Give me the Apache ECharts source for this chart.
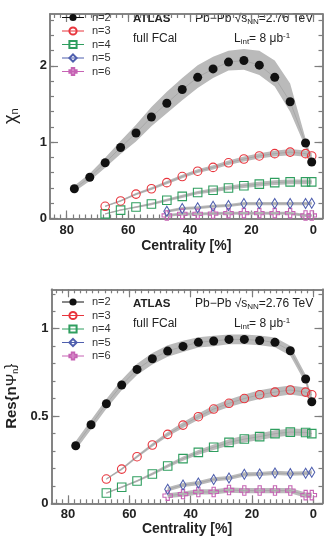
<!DOCTYPE html>
<html>
<head>
<meta charset="utf-8">
<script src="https://cdn.jsdelivr.net/npm/echarts@6/dist/echarts.min.js"></script>
<style>
html,body{margin:0;padding:0;background:#fff;}
#chart{width:329px;height:539px;}
</style>
</head>
<body>
<div id="chart"></div>
<script>
// ---------- data ----------
const centAll = [77.5,72.5,67.5,62.5,57.5,52.5,47.5,42.5,37.5,32.5,27.5,22.5,17.5,12.5,7.5,2.5,0.5];
const cent34  = [67.5,62.5,57.5,52.5,47.5,42.5,37.5,32.5,27.5,22.5,17.5,12.5,7.5,2.5,0.5];
const cent56  = [47.5,42.5,37.5,32.5,27.5,22.5,17.5,12.5,7.5,2.5,0.5];

// top panel: chi_n
const chiN2   = [0.39,0.54,0.73,0.93,1.12,1.33,1.51,1.69,1.85,1.96,2.05,2.07,2.01,1.85,1.53,0.99,0.74];
const chiN2Up = [0.04,0.05,0.065,0.085,0.11,0.13,0.15,0.15,0.16,0.16,0.15,0.15,0.19,0.22,0.24,0.06,0.05];
const chiN2Lo = [0.04,0.05,0.065,0.085,0.11,0.12,0.13,0.14,0.14,0.12,0.11,0.12,0.13,0.12,0.13,0.06,0.05];
const chiN3   = [0.16,0.23,0.32,0.39,0.47,0.55,0.62,0.67,0.73,0.78,0.82,0.85,0.87,0.85,0.82];
const chiN3Err= [0.01,0.012,0.015,0.018,0.02,0.022,0.025,0.028,0.03,0.032,0.035,0.038,0.04,0.04,0.04];
const chiN4   = [0.06,0.11,0.15,0.19,0.24,0.29,0.34,0.37,0.40,0.43,0.45,0.47,0.48,0.48,0.48];
const chiN4Err= [0.008,0.01,0.012,0.015,0.018,0.02,0.022,0.025,0.028,0.03,0.03,0.032,0.032,0.032,0.032];
const chiN5   = [0.094,0.13,0.14,0.16,0.17,0.195,0.195,0.195,0.195,0.195,0.2];
const chiN5Err= [0.018,0.02,0.02,0.02,0.02,0.02,0.02,0.02,0.02,0.02,0.02];
const chiN6   = [0.04,0.06,0.06,0.065,0.07,0.07,0.07,0.07,0.07,0.04,0.04];
const chiN6Err= [0.018,0.02,0.02,0.02,0.02,0.02,0.02,0.02,0.02,0.02,0.02];

// bottom panel: Res{n Psi_n}
const resN2   = [0.33,0.45,0.57,0.678,0.767,0.828,0.872,0.899,0.922,0.93,0.939,0.939,0.933,0.922,0.874,0.712,0.582];
const resN2Err= [0.025,0.027,0.028,0.03,0.032,0.033,0.033,0.032,0.03,0.03,0.028,0.028,0.028,0.028,0.028,0.025,0.02];
const resN3   = [0.139,0.196,0.267,0.334,0.395,0.448,0.496,0.54,0.573,0.60,0.622,0.637,0.649,0.637,0.622];
const resN3Err= [0.004,0.006,0.008,0.01,0.013,0.016,0.018,0.02,0.022,0.024,0.025,0.026,0.026,0.026,0.026];
const resN4   = [0.059,0.092,0.128,0.168,0.214,0.256,0.292,0.321,0.349,0.368,0.382,0.399,0.408,0.406,0.399];
const resN4Err= [0.004,0.005,0.006,0.008,0.01,0.012,0.014,0.016,0.018,0.02,0.02,0.02,0.02,0.02,0.02];
const resN5   = [0.08,0.105,0.116,0.137,0.145,0.166,0.168,0.174,0.17,0.172,0.178];
const resN5Err= [0.012,0.012,0.012,0.012,0.012,0.012,0.012,0.012,0.012,0.012,0.012];
const resN6   = [0.044,0.053,0.065,0.065,0.076,0.073,0.073,0.073,0.073,0.047,0.047];
const resN6Err= [0.014,0.015,0.015,0.015,0.015,0.015,0.015,0.015,0.015,0.015,0.015];

const seriesNames = ['n=2','n=3','n=4','n=5','n=6'];
const xTickLabels = [0,20,40,60,80];
const yTickLabelsTop = [0,1,2];
const yTickLabelsBottom = [0,0.5,1];

// ---------- styles ----------
const FONT = 'Liberation Sans, Arial, Helvetica, sans-serif';
const FRAME = '#7d7d7d';
const BAND = '#bababa';
const COLORS = {'n=2':'#111111','n=3':'#e8353d','n=4':'#2f9e5f','n=5':'#4f5fae','n=6':'#c663b4'};
const CROSS = 'path://M3.3,0H6.7V3.3H10V6.7H6.7V10H3.3V6.7H0V3.3H3.3Z';

function range(a, b, step){ const r=[]; for(let v=a; v<=b+1e-9; v+=step) r.push(+v.toFixed(4)); return r; }
const xMinor = range(0, 84, 2);

const grids = [
  {left:50, top:14, width:272.5, height:204.5, containLabel:false, outerBoundsMode:'none'},
  {left:51.5, top:289.3, width:271, height:214, containLabel:false, outerBoundsMode:'none'}
];

const xAxes = [], yAxes = [];
function addX(gi, pos, major, labels, name){
  xAxes.push({
    type:'value', gridIndex:gi, position:pos, min:-3, max:85.4, inverse:true,
    axisLine:{show:true, onZero:false, lineStyle:{color:FRAME, width:1.5}},
    axisTick:{show:true, inside:true, length: major?8:4, customValues: major?xTickLabels:xMinor, lineStyle:{color:FRAME, width:1.2}},
    axisLabel:{show:!!labels, customValues:xTickLabels, margin:5, color:'#222', fontFamily:FONT, fontWeight:'bold', fontSize:13},
    splitLine:{show:false},
    name: name || '', nameLocation:'middle', nameGap:21,
    nameTextStyle:{color:'#222', fontFamily:FONT, fontWeight:'bold', fontSize:14}
  });
}
function addY(gi, pos, max, major, labels, minorStep, majors, name, nameRich){
  yAxes.push({
    type:'value', gridIndex:gi, position:pos, min:0, max:max,
    axisLine:{show:true, onZero:false, lineStyle:{color:FRAME, width:1.5}},
    axisTick:{show:true, inside:true, length: major?8:4, customValues: major?majors:range(0, max, minorStep), lineStyle:{color:FRAME, width:1.2}},
    axisLabel:{show:!!labels, customValues:majors, margin:3, color:'#222', fontFamily:FONT, fontWeight:'bold', fontSize:13},
    splitLine:{show:false},
    name: name || '', nameLocation:'middle', nameGap:32, nameRotate:90,
    nameTextStyle:{color:'#222', fontFamily:FONT, fontSize:15, rich:nameRich || {}}
  });
}
addX(0,'bottom',true,true,'Centrality [%]');
addX(0,'bottom',false,false);
addX(0,'top',true,false);
addX(0,'top',false,false);
addX(1,'bottom',true,true,'Centrality [%]');
addX(1,'bottom',false,false);
addX(1,'top',true,false);
addX(1,'top',false,false);
xAxes[4].nameGap = 18;

const richTop = {
  a:{fontFamily:FONT, fontSize:18, color:'#222', verticalAlign:'bottom', lineHeight:20},
  b:{fontFamily:FONT, fontSize:11, color:'#222', verticalAlign:'bottom', lineHeight:15}
};
const richBot = {
  a:{fontFamily:FONT, fontSize:15, fontWeight:'bold', color:'#222', verticalAlign:'bottom', lineHeight:18},
  p:{fontFamily:FONT, fontSize:15, color:'#222', verticalAlign:'bottom', lineHeight:18},
  b:{fontFamily:FONT, fontSize:9, color:'#222', verticalAlign:'bottom', lineHeight:13}
};
const TOPMAX = 2.68, BOTMAX = 1.226;
addY(0,'left',TOPMAX,true,true,0.2,yTickLabelsTop,'{a|χ}{b|n}',richTop);
addY(0,'left',TOPMAX,false,false,0.2,yTickLabelsTop);
addY(0,'right',TOPMAX,true,false,0.2,yTickLabelsTop);
addY(0,'right',TOPMAX,false,false,0.2,yTickLabelsTop);
addY(1,'left',BOTMAX,true,true,0.1,yTickLabelsBottom,'{a|Res\{n}{p|Ψ}{b|n}{a|\}}',richBot);
addY(1,'left',BOTMAX,false,false,0.1,yTickLabelsBottom);
addY(1,'right',BOTMAX,true,false,0.1,yTickLabelsBottom);
addY(1,'right',BOTMAX,false,false,0.1,yTickLabelsBottom);
yAxes[0].nameGap = 30;
yAxes[4].nameGap = 28;

// ---------- series builders ----------
function band(gi, xs, ys, up, lo){
  return {
    type:'custom', xAxisIndex:gi*4, yAxisIndex:gi*4, silent:true, z:1, clip:true,
    data: xs.map((x,i)=>[x, ys[i]]),
    renderItem: function(params, api){
      if (params.dataIndex !== 0) return {type:'group', children:[]};
      const upper = xs.map((x,i)=>api.coord([x, ys[i]+up[i]]));
      const lower = xs.map((x,i)=>api.coord([x, ys[i]-lo[i]])).reverse();
      return {type:'polygon', shape:{points: upper.concat(lower)}, style:{fill:BAND}};
    }
  };
}
function markers(gi, name, xs, ys){
  const c = COLORS[name];
  let symbol = 'circle', size = 8.5, itemStyle;
  if (name === 'n=2') { itemStyle = {color:c, borderWidth:0}; size = 9; }
  else {
    itemStyle = {color:'rgba(0,0,0,0)', borderColor:c, borderWidth:1.1};
    if (name === 'n=4') { symbol = 'rect'; size = 8.5; }
    if (name === 'n=5') { symbol = 'diamond'; size = [6,10]; }
    if (name === 'n=6') { symbol = CROSS; size = 9.5; }
  }
  return {
    type:'line', name:name, xAxisIndex:gi*4, yAxisIndex:gi*4, z:3,
    data: xs.map((x,i)=>[x, ys[i]]),
    symbol:symbol, symbolSize:size, showSymbol:true, showAllSymbol:true,
    itemStyle:itemStyle,
    lineStyle:{color:'#a8a8a8', width:1},
    emphasis:{disabled:true}, animation:false
  };
}

const series = [
  band(0, centAll, chiN2, chiN2Up, chiN2Lo),
  band(0, cent34, chiN3, chiN3Err, chiN3Err),
  band(0, cent34, chiN4, chiN4Err, chiN4Err),
  band(0, cent56, chiN5, chiN5Err, chiN5Err),
  band(0, cent56, chiN6, chiN6Err, chiN6Err),
  markers(0,'n=6',cent56,chiN6),
  markers(0,'n=5',cent56,chiN5),
  markers(0,'n=4',cent34,chiN4),
  markers(0,'n=3',cent34,chiN3),
  markers(0,'n=2',centAll,chiN2),

  band(1, centAll, resN2, resN2Err, resN2Err),
  band(1, cent34, resN3, resN3Err, resN3Err),
  band(1, cent34, resN4, resN4Err, resN4Err),
  band(1, cent56, resN5, resN5Err, resN5Err),
  band(1, cent56, resN6, resN6Err, resN6Err),
  markers(1,'n=6',cent56,resN6),
  markers(1,'n=5',cent56,resN5),
  markers(1,'n=4',cent34,resN4),
  markers(1,'n=3',cent34,resN3),
  markers(1,'n=2',centAll,resN2)
];

function legend(top){
  return {
    orient:'vertical', left:61.5, top:top, padding:0, itemWidth:22, itemHeight:9, itemGap:1.5,
    selectedMode:false,
    textStyle:{color:'#333', fontFamily:FONT, fontSize:11, lineHeight:12, padding:[0,0,0,3]},
    data: seriesNames.map(n=>({name:n, lineStyle:{color:COLORS[n], width:1, opacity:1}}))
  };
}

function txt(x, y, content, rich){
  return {type:'text', x:x, y:y, silent:true,
    style:{text:content, verticalAlign:'middle', align:'left', fill:'#222', fontFamily:FONT, fontSize:11.5, rich:rich}};
}
const richInfo = {
  t:{fontFamily:FONT, fontSize:12, color:'#222'},
  bo:{fontFamily:FONT, fontSize:11.5, fontWeight:'bold', color:'#222'},
  sub:{fontFamily:FONT, fontSize:8, color:'#222', padding:[6,0,0,0]},
  sup:{fontFamily:FONT, fontSize:8, color:'#222', padding:[0,0,6,0]}
};
const pbpb = '{t|Pb−Pb }{t|√}{t|s}{sub|NN}{t|=2.76 TeV}';
const lint = '{t|L}{sub|int}{t|= 8 μb}{sup|-1}';

function infoTexts(dy){
  return [
    txt(133, 18.5+dy, '{bo|ATLAS}', richInfo),
    txt(133, 38.5+dy, '{t|full FCal}', richInfo),
    txt(195, 19+dy, pbpb, richInfo),
    txt(234, 38.5+dy, lint, richInfo),
  ];
}

const chart = echarts.init(document.getElementById('chart'), null, {renderer:'canvas'});
chart.setOption({
  backgroundColor:'#fff',
  animation:false,
  grid:grids,
  xAxis:xAxes,
  yAxis:yAxes,
  legend:[legend(11.5), legend(296)],
  graphic: infoTexts(0).concat(infoTexts(285)),
  series:series
});
</script>
</body>
</html>
